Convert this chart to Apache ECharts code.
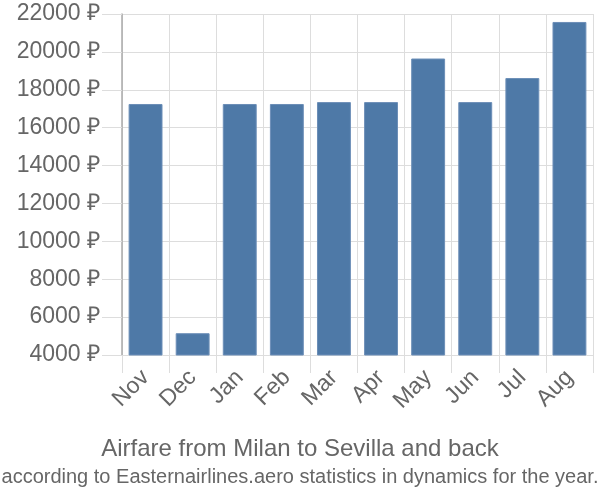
<!DOCTYPE html>
<html><head><meta charset="utf-8">
<script src="https://cdn.jsdelivr.net/npm/echarts@6/dist/echarts.min.js"></script>
<style>html,body{margin:0;padding:0;background:#fff}#c{width:600px;height:500px}</style>
</head><body><div id="c"></div>
<script>
const categories = ['Nov','Dec','Jan','Feb','Mar','Apr','May','Jun','Jul','Aug'];
const prices = [17250, 5150, 17250, 17250, 17350, 17350, 19650, 17350, 18620, 21580];
const titleText = 'Airfare from Milan to Sevilla and back';
const subtitleText = 'according to Easternairlines.aero statistics in dynamics for the year.';

const chart = echarts.init(document.getElementById('c'), null, {renderer:'canvas'});
chart.setOption({
  animation: false,
  title: {
    text: titleText,
    subtext: subtitleText,
    left: 'center',
    top: 432,
    itemGap: 6,
    textStyle: {fontFamily: 'Liberation Sans', fontSize: 24, fontWeight: 'normal', color: '#666'},
    subtextStyle: {fontFamily: 'Liberation Sans', fontSize: 20, color: '#666'}
  },
  grid: {left: 122, right: 7, top: 14, bottom: 145, containLabel: false},
  xAxis: {
    type: 'category',
    data: categories,
    axisLine: {show: true, lineStyle: {color: '#ddd'}},
    axisTick: {show: true, length: 18, lineStyle: {color: '#ddd'}},
    splitLine: {show: true, lineStyle: {color: '#ddd'}},
    axisLabel: {rotate: 45, color: '#666', fontSize: 23, fontFamily: 'Liberation Sans', margin: 19}
  },
  yAxis: {
    type: 'value',
    min: 4000, max: 22000, interval: 2000,
    axisLine: {show: true, lineStyle: {color: '#aaa', width: 1.5}},
    axisTick: {show: true, length: 20, lineStyle: {color: '#ddd'}},
    splitLine: {show: true, lineStyle: {color: '#ddd'}},
    axisLabel: {color: '#666', fontSize: 23, fontFamily: 'Liberation Sans', margin: 22,
      formatter: v => v + ' ₽'}
  },
  series: [{
    type: 'bar',
    data: prices,
    barWidth: '72%',
    itemStyle: {color: '#4e79a7', borderColor: '#6d8fb8', borderWidth: 1}
  }]
});
</script></body></html>
